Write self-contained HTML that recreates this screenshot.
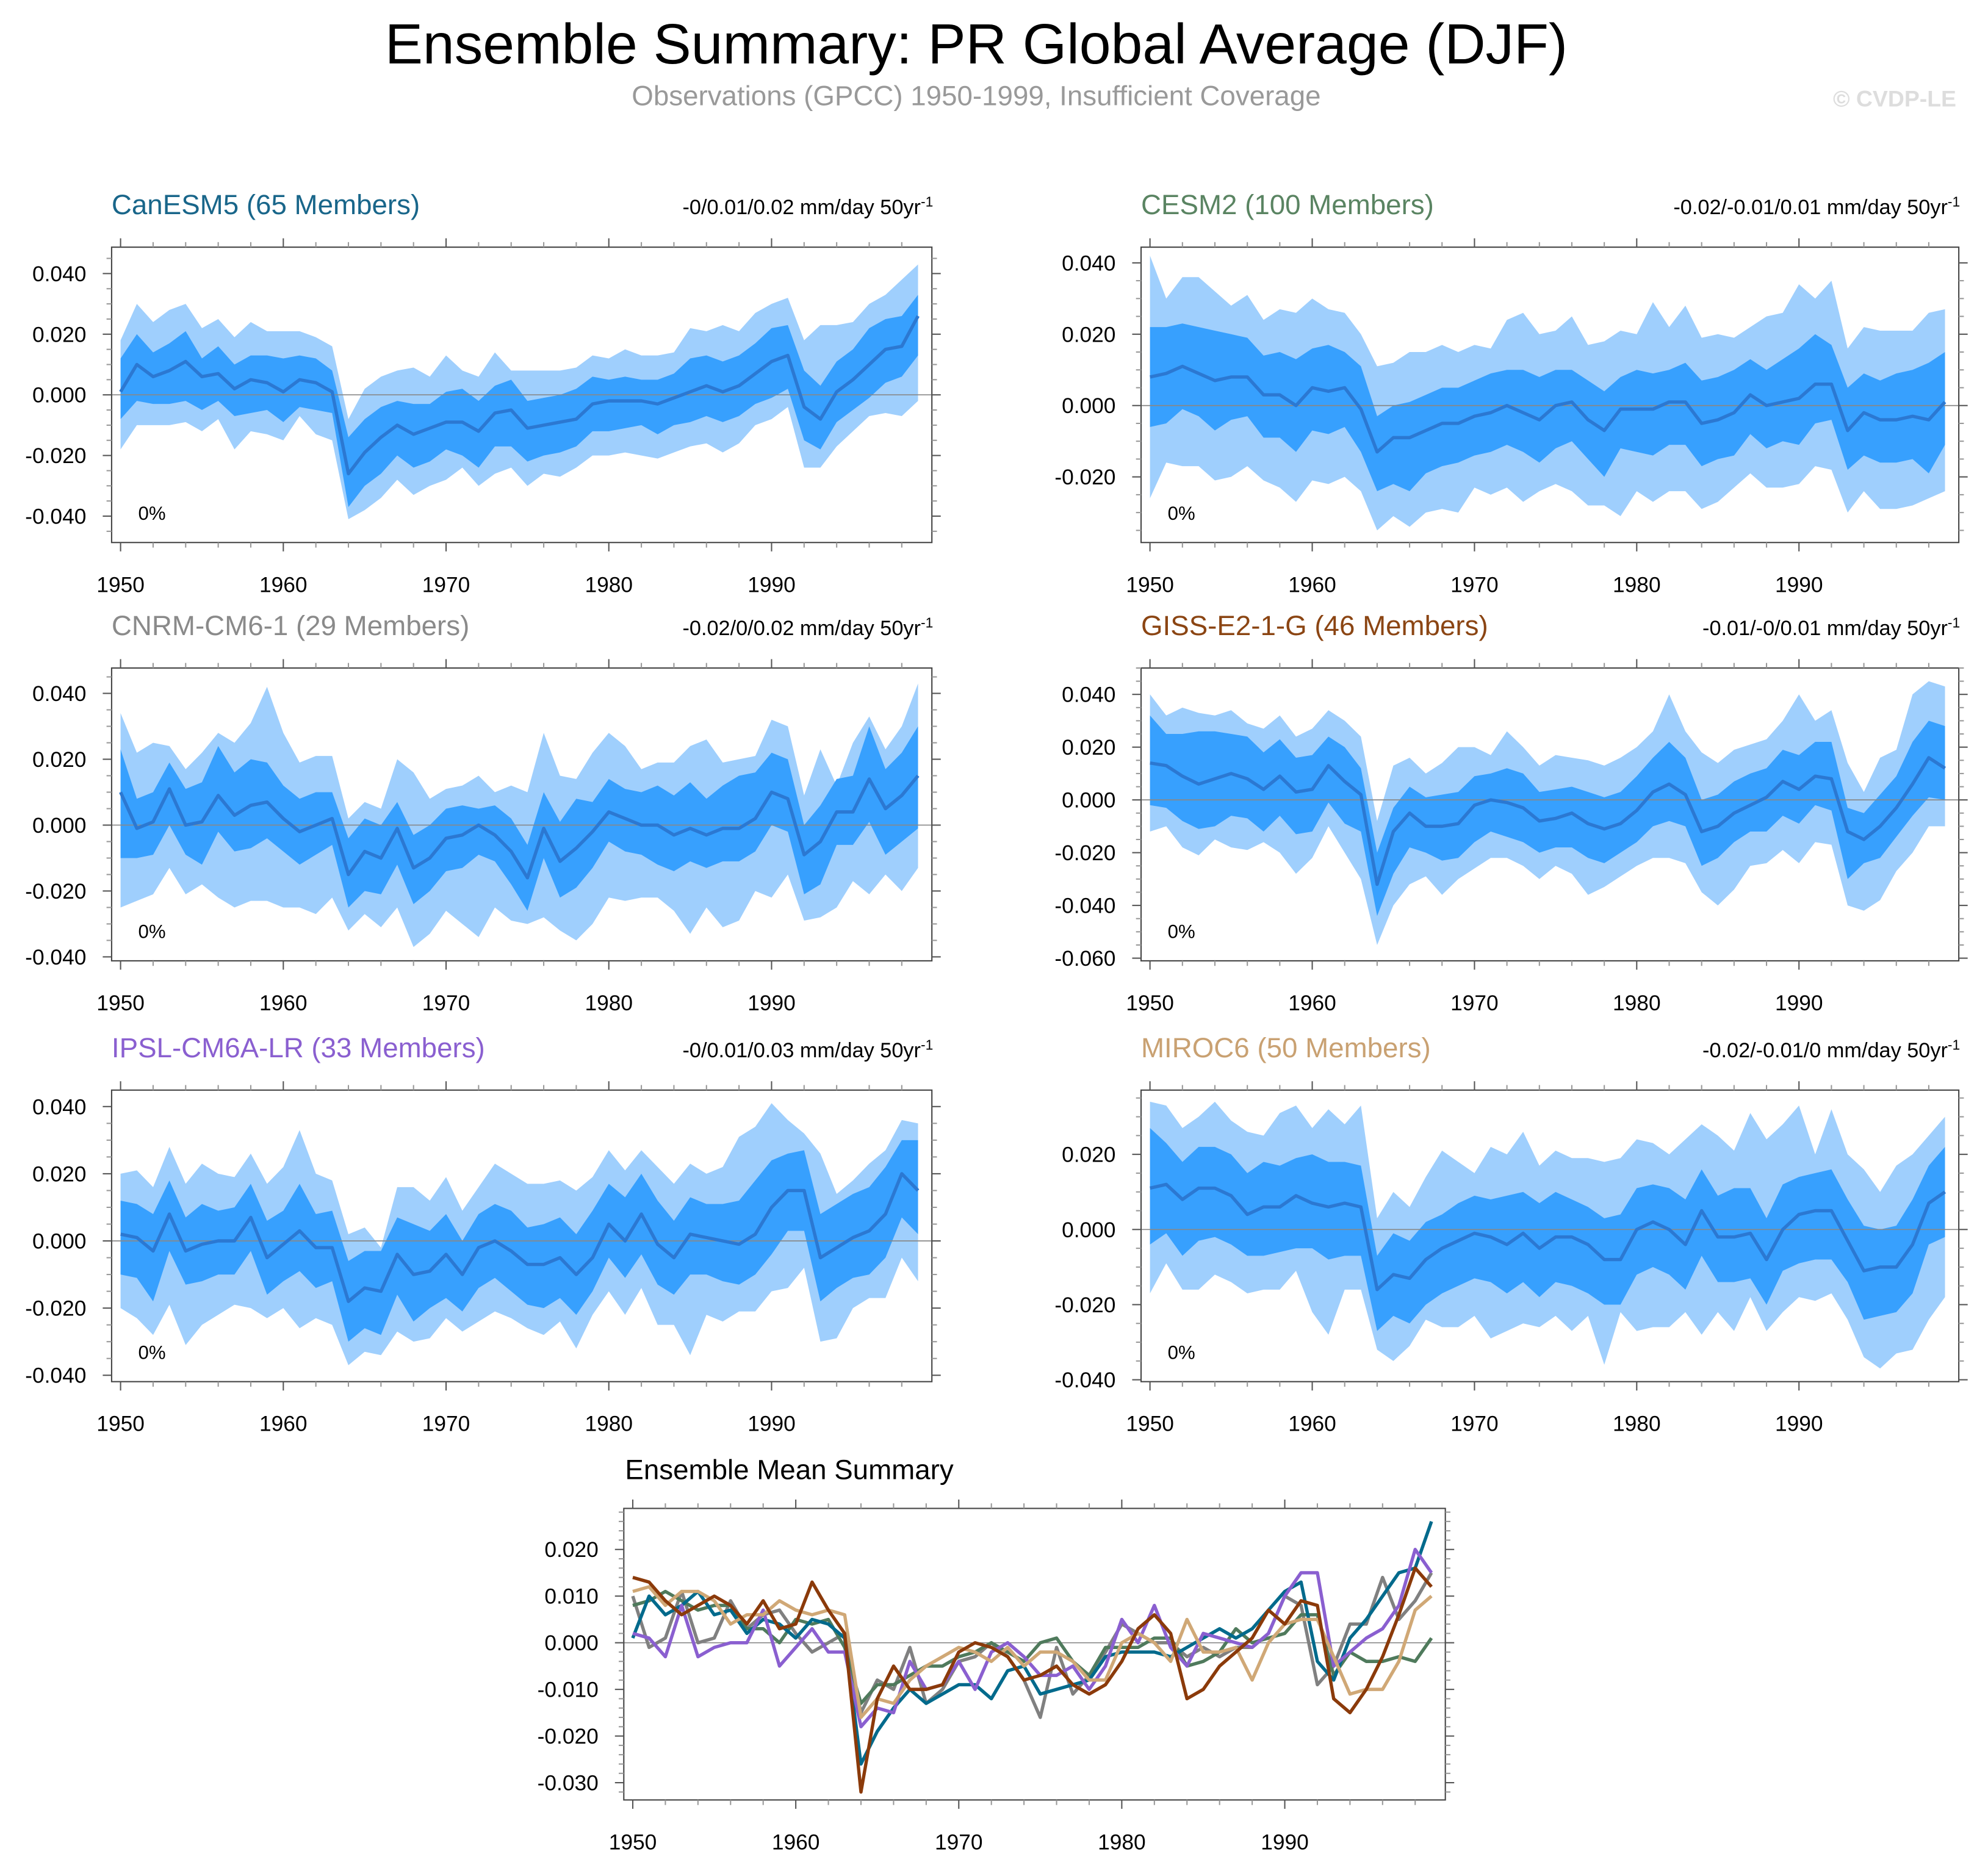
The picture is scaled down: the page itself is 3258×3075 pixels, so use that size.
<!DOCTYPE html>
<html><head><meta charset="utf-8"><style>
html,body{margin:0;padding:0;background:#fff}
svg{display:block}
text{font-family:"Liberation Sans",Arial,sans-serif}
</style></head><body>
<svg id="fig" xmlns="http://www.w3.org/2000/svg" width="3258" height="3075" viewBox="0 0 1568 1480">
<rect x="0" y="0" width="1568" height="1480" fill="#fff"/>
<text x="770" y="50" font-size="44.8" text-anchor="middle" fill="#000">Ensemble Summary: PR Global Average (DJF)</text>
<text x="770" y="83" font-size="22" text-anchor="middle" fill="#999">Observations (GPCC) 1950-1999, Insufficient Coverage</text>
<text x="1543" y="84" font-size="18" font-weight="bold" text-anchor="end" fill="#ddd">© CVDP-LE</text>
</svg>
<script>
const years = Array.from({length:50},(_,i)=>1950+i);
const modelNames = ["CanESM5 (65 Members)","CESM2 (100 Members)","CNRM-CM6-1 (29 Members)","GISS-E2-1-G (46 Members)","IPSL-CM6A-LR (33 Members)","MIROC6 (50 Members)"];
const trendLabels = ["-0/0.01/0.02 mm/day 50yr","-0.02/-0.01/0.01 mm/day 50yr","-0.02/0/0.02 mm/day 50yr","-0.01/-0/0.01 mm/day 50yr","-0/0.01/0.03 mm/day 50yr","-0.02/-0.01/0 mm/day 50yr"];
const modelColors = ["#19668a","#5a8462","#8a8a8a","#8b4513","#8a5fd0","#c9a172"];
const lineColors = ["#006a8c","#4f7a5c","#808080","#8b3a0a","#8a5fd0","#d0a876"];
// values in units of 0.001 mm/day
const meanCan=[1,10,6,8,11,6,7,2,5,4,1,5,4,1,-26,-19,-14,-10,-13,-11,-9,-9,-12,-6,-5,-11,-10,-9,-8,-3,-2,-2,-2,-3,-1,1,3,1,3,7,11,13,-4,-8,1,5,10,15,16,26];
const hi1Can=[12,20,14,17,21,12,16,10,13,13,12,13,12,8,-14,-8,-4,-2,-3,-3,1,2,-2,3,5,-2,-1,0,2,6,5,6,5,5,7,12,13,11,13,17,22,23,8,3,11,15,22,25,26,33];
const lo1Can=[-8,-2,-3,-3,-2,-5,-2,-7,-6,-5,-9,-4,-5,-6,-37,-30,-26,-20,-24,-22,-18,-20,-24,-17,-17,-22,-20,-19,-17,-12,-12,-11,-10,-13,-10,-9,-7,-9,-7,-3,-1,2,-15,-18,-9,-5,-1,4,6,13];
const hi2Can=[18,30,24,28,30,22,25,19,24,21,21,21,19,16,-8,2,6,8,9,6,13,8,6,14,8,8,8,8,9,13,12,15,13,13,14,22,21,23,21,27,30,32,18,23,23,24,30,33,38,43];
const lo2Can=[-18,-10,-10,-10,-9,-12,-8,-18,-12,-13,-15,-7,-13,-15,-41,-38,-34,-28,-33,-30,-28,-24,-30,-26,-24,-30,-26,-27,-24,-20,-20,-19,-20,-21,-19,-17,-16,-19,-16,-10,-8,-4,-24,-24,-17,-12,-7,-6,-7,-2];
const meanCesm=[8,9,11,9,7,8,8,3,3,0,5,4,5,-1,-13,-9,-9,-7,-5,-5,-3,-2,0,-2,-4,0,1,-4,-7,-1,-1,-1,1,1,-5,-4,-2,3,0,1,2,6,6,-7,-2,-4,-4,-3,-4,1];
const hi1Cesm=[22,22,23,22,21,20,19,14,15,13,16,17,15,11,-3,0,1,3,5,5,7,9,10,10,8,10,10,7,4,8,10,9,10,12,7,8,10,13,10,13,16,20,17,5,9,7,9,10,12,15];
const lo1Cesm=[-6,-5,-1,-3,-7,-4,-3,-9,-9,-13,-7,-8,-6,-13,-24,-22,-24,-19,-17,-16,-14,-13,-11,-13,-16,-12,-10,-15,-20,-12,-13,-14,-11,-11,-17,-15,-14,-8,-12,-10,-11,-5,-4,-18,-14,-16,-16,-15,-19,-11];
const hi2Cesm=[42,30,36,36,32,28,31,24,27,26,30,27,26,20,11,12,15,15,17,15,17,16,24,26,20,21,25,17,18,21,20,29,22,28,19,20,19,22,25,26,34,30,35,16,22,21,21,21,26,27];
const lo2Cesm=[-26,-16,-17,-17,-21,-20,-17,-21,-23,-27,-21,-22,-20,-24,-35,-31,-34,-30,-29,-30,-23,-25,-23,-27,-24,-22,-24,-28,-28,-31,-24,-27,-24,-24,-29,-27,-23,-19,-23,-23,-22,-17,-18,-30,-24,-29,-29,-28,-26,-24];
const meanCnrm=[10,-1,1,11,0,1,9,3,6,7,2,-2,0,2,-15,-8,-10,-1,-13,-10,-4,-3,0,-3,-8,-16,-1,-11,-7,-2,4,2,0,0,-3,-1,-3,-1,-1,2,10,8,-9,-5,4,4,14,5,9,15];
const hi1Cnrm=[23,8,10,19,11,13,24,16,20,19,12,8,10,10,-4,2,0,7,-3,0,5,6,5,6,2,-6,10,1,8,7,14,11,10,12,9,13,8,12,15,16,22,20,0,6,14,15,30,17,22,30];
const lo1Cnrm=[-10,-10,-9,0,-9,-12,-2,-8,-7,-4,-8,-12,-9,-6,-25,-20,-21,-12,-24,-20,-14,-13,-9,-11,-18,-26,-10,-22,-19,-13,-5,-8,-9,-12,-14,-11,-13,-11,-11,-8,0,-2,-21,-18,-6,-6,1,-9,-5,-1];
const hi2Cnrm=[34,22,25,24,17,22,28,25,31,42,28,19,21,21,2,7,5,20,16,8,11,12,15,10,12,10,28,15,14,22,28,24,17,19,19,24,26,19,20,21,32,30,9,23,12,25,33,23,30,43];
const lo2Cnrm=[-25,-23,-21,-13,-21,-18,-22,-25,-23,-23,-25,-25,-27,-22,-32,-27,-31,-25,-37,-33,-26,-30,-34,-25,-29,-30,-28,-32,-35,-30,-22,-23,-22,-22,-26,-33,-25,-31,-29,-20,-22,-15,-29,-28,-25,-17,-21,-15,-20,-13];
const meanGiss=[14,13,9,6,8,10,8,4,9,3,4,13,7,2,-32,-12,-5,-10,-10,-9,-2,0,-1,-3,-8,-7,-5,-9,-11,-9,-4,3,6,2,-12,-10,-5,-2,1,7,4,9,8,-12,-15,-10,-3,6,16,12];
const hi1Giss=[32,25,25,26,26,25,24,18,23,16,17,24,20,12,-20,-3,5,1,2,3,9,10,12,10,3,4,5,3,1,3,9,16,22,16,0,2,7,10,12,19,17,22,22,-3,-5,2,9,22,30,28];
const lo1Giss=[-2,-3,-8,-11,-10,-6,-7,-12,-6,-13,-12,-1,-9,-12,-44,-28,-18,-20,-23,-22,-16,-12,-14,-16,-20,-18,-18,-22,-24,-20,-16,-10,-8,-10,-25,-22,-16,-12,-12,-6,-9,-2,-4,-30,-24,-22,-14,-6,1,0];
const hi2Giss=[40,32,35,33,32,34,29,27,32,24,27,34,30,24,-8,13,16,10,14,20,20,17,26,20,13,17,16,15,13,16,20,26,40,26,18,14,19,21,23,30,40,30,34,14,3,16,19,40,45,43];
const lo2Giss=[-12,-10,-18,-21,-15,-18,-19,-16,-20,-28,-22,-10,-20,-30,-55,-40,-32,-29,-36,-30,-26,-22,-22,-25,-30,-25,-28,-36,-33,-29,-25,-22,-22,-24,-35,-40,-34,-25,-24,-19,-24,-16,-17,-40,-42,-38,-27,-20,-10,-10];
const meanIpsl=[2,1,-3,8,-3,-1,0,0,7,-5,-1,3,-2,-2,-18,-14,-15,-4,-10,-9,-4,-10,-2,0,-3,-7,-7,-5,-10,-5,5,0,8,-1,-5,2,1,0,-1,2,10,15,15,-5,-2,1,3,8,20,15];
const hi1Ipsl=[12,11,8,18,7,11,9,10,17,6,9,17,8,9,-6,-3,-3,7,5,3,8,0,8,11,9,4,5,7,2,9,17,13,20,12,6,13,11,11,12,18,24,26,27,8,11,14,16,22,30,30];
const lo1Ipsl=[-10,-11,-18,-3,-13,-12,-10,-10,-3,-16,-12,-9,-14,-12,-30,-26,-28,-16,-24,-20,-17,-21,-14,-11,-15,-19,-20,-17,-22,-15,-5,-11,-4,-13,-16,-10,-10,-12,-13,-10,-4,3,3,-18,-14,-11,-10,-5,7,2];
const hi2Ipsl=[20,21,16,28,17,23,20,19,26,17,22,33,20,18,2,4,-2,16,16,12,19,9,16,23,20,17,17,18,15,19,27,21,27,22,17,23,20,22,31,34,41,36,32,26,14,18,23,27,36,35];
const lo2Ipsl=[-20,-23,-28,-19,-31,-25,-22,-19,-20,-23,-20,-26,-23,-25,-37,-33,-34,-27,-30,-29,-23,-27,-24,-21,-23,-26,-28,-24,-32,-22,-15,-22,-14,-25,-25,-34,-22,-24,-21,-21,-15,-14,-8,-30,-29,-20,-17,-17,-5,-12];
const meanMiroc=[11,12,8,11,11,9,4,6,6,9,7,6,7,6,-16,-12,-13,-8,-5,-3,-1,-2,-4,-1,-5,-2,-2,-4,-8,-8,0,2,0,-4,5,-2,-2,-1,-8,0,4,5,5,-3,-11,-10,-10,-4,7,10];
const hi1Miroc=[27,23,18,22,22,20,15,18,17,19,20,18,18,17,-7,-1,-3,2,4,7,9,8,9,10,7,10,8,6,3,4,11,12,11,8,16,9,11,11,3,12,14,15,16,8,1,0,1,8,17,22];
const lo1Miroc=[-4,-1,-7,-3,-2,-4,-7,-7,-6,-5,-5,-8,-7,-7,-27,-23,-25,-20,-17,-15,-13,-14,-17,-14,-18,-14,-15,-17,-20,-20,-12,-10,-12,-16,-7,-14,-14,-13,-20,-11,-9,-8,-8,-14,-24,-23,-22,-17,-4,-2];
const hi2Miroc=[34,33,27,30,34,29,26,25,31,33,27,32,28,33,3,10,6,14,21,18,15,22,20,26,17,21,19,19,18,19,24,23,20,24,28,25,21,31,24,28,33,20,32,20,16,10,17,20,25,30];
const lo2Miroc=[-17,-9,-16,-16,-12,-14,-17,-16,-16,-11,-22,-28,-16,-16,-32,-35,-31,-24,-26,-26,-23,-29,-27,-25,-26,-23,-27,-23,-36,-22,-27,-26,-26,-22,-28,-22,-27,-18,-27,-22,-18,-19,-17,-24,-34,-37,-33,-32,-24,-18];
const yTicksA=[0.04,0.02,0,-0.02,-0.04];
const yTicksB=[0.04,0.02,0,-0.02];
const yTicksC=[0.04,0.02,0,-0.02,-0.04,-0.06];
const yTicksD=[0.02,0,-0.02,-0.04];
const yTicksE=[0.02,0.01,0,-0.01,-0.02,-0.03];
const xTicks=[1950,1960,1970,1980,1990];

const NS="http://www.w3.org/2000/svg";
const svg=document.getElementById('fig');
function el(tag,attrs,parent){const e=document.createElementNS(NS,tag);for(const k in attrs)e.setAttribute(k,attrs[k]);(parent||svg).appendChild(e);return e;}
const XD=[1949.45,1999.85];

const panels=[
 {box:[88,735,195,428],yd:[-0.0487,0.0487],ticks:yTicksA,d:[meanCan,hi1Can,lo1Can,hi2Can,lo2Can]},
 {box:[900,1545,195,428],yd:[-0.0384,0.0444],ticks:yTicksB,d:[meanCesm,hi1Cesm,lo1Cesm,hi2Cesm,lo2Cesm]},
 {box:[88,735,527,758],yd:[-0.0412,0.0477],ticks:yTicksA,d:[meanCnrm,hi1Cnrm,lo1Cnrm,hi2Cnrm,lo2Cnrm]},
 {box:[900,1545,527,758],yd:[-0.061,0.05],ticks:yTicksC,d:[meanGiss,hi1Giss,lo1Giss,hi2Giss,lo2Giss]},
 {box:[88,735,860,1090],yd:[-0.0419,0.0449],ticks:yTicksA,d:[meanIpsl,hi1Ipsl,lo1Ipsl,hi2Ipsl,lo2Ipsl]},
 {box:[900,1545,860,1090],yd:[-0.0405,0.0371],ticks:yTicksD,d:[meanMiroc,hi1Miroc,lo1Miroc,hi2Miroc,lo2Miroc]}
];

function axes(g,box,yd,ticks,minorStep){
  const [x0,x1,y0,y1]=box;
  const sx=v=>x0+(v-XD[0])/(XD[1]-XD[0])*(x1-x0);
  const sy=v=>y1-(v-yd[0])/(yd[1]-yd[0])*(y1-y0);
  return {sx,sy,draw:()=>{
    el('rect',{x:x0,y:y0,width:x1-x0,height:y1-y0,fill:'none',stroke:'#444','stroke-width':1},g);
    for(let yr=1950;yr<=1998;yr+=2){const x=sx(yr);const maj=yr%10===0;const L=maj?7:4;
      el('line',{x1:x,x2:x,y1:y1,y2:y1+L,stroke:maj?'#555':'#999','stroke-width':1},g);
      el('line',{x1:x,x2:x,y1:y0,y2:y0-L,stroke:maj?'#555':'#999','stroke-width':1},g);}
    const lo=Math.ceil(yd[0]/minorStep-1e-6),hi=Math.floor(yd[1]/minorStep+1e-6);
    for(let k=lo;k<=hi;k++){const v=k*minorStep;const y=sy(v);const maj=ticks.some(t=>Math.abs(t-v)<1e-9);const L=maj?7:4;
      el('line',{x1:x0,x2:x0-L,y1:y,y2:y,stroke:maj?'#555':'#999','stroke-width':1},g);
      el('line',{x1:x1,x2:x1+L,y1:y,y2:y,stroke:maj?'#555':'#999','stroke-width':1},g);}
    ticks.forEach(t=>{const tx=el('text',{x:x0-20,y:sy(t)+6,'font-size':17,'text-anchor':'end',fill:'#000'},g);
      
      
      tx.textContent=t.toFixed(3);});
    xTicks.forEach(t=>{const tx=el('text',{x:sx(t),y:y1+39,'font-size':17,'text-anchor':'middle',fill:'#000'},g);
      
      
      tx.textContent=t;});
  }};
}

function areaPath(hi,lo,sx,sy){let p='';hi.forEach((v,i)=>{p+=(i?'L':'M')+sx(years[i]).toFixed(2)+','+sy(v/1000).toFixed(2);});
  for(let i=lo.length-1;i>=0;i--)p+='L'+sx(years[i]).toFixed(2)+','+sy(lo[i]/1000).toFixed(2);return p+'Z';}
function linePath(arr,sx,sy){return arr.map((v,i)=>(i?'L':'M')+sx(years[i]).toFixed(2)+','+sy(v/1000).toFixed(2)).join('');}

panels.forEach((P,i)=>{
  const g=el('g',{});
  
  
  const A=axes(g,P.box,P.yd,P.ticks,0.005);
  const [mean,h1,l1,h2,l2]=P.d;
  const a2=el('path',{d:areaPath(h2,l2,A.sx,A.sy),fill:'#9fcffd'},g);
  
  
  const a1=el('path',{d:areaPath(h1,l1,A.sx,A.sy),fill:'#37a0fe'},g);
  
  
  const z=el('line',{x1:P.box[0],x2:P.box[1],y1:A.sy(0),y2:A.sy(0),stroke:'#888','stroke-width':0.8},g);
  
  
  const m=el('path',{d:linePath(mean,A.sx,A.sy),fill:'none',stroke:'#2b78d2','stroke-width':2.6,'stroke-linejoin':'round'},g);
  
  
  A.draw();
  const t=el('text',{x:P.box[0],y:P.box[2]-26,'font-size':22,fill:modelColors[i]},g);
  
  
  t.textContent=modelNames[i];
  const tr=el('text',{x:P.box[1]+1,y:P.box[2]-26,'font-size':16.5,'text-anchor':'end',fill:'#000'},g);
  
  
  tr.textContent=trendLabels[i];
  const sup=el('tspan',{dy:-6,'font-size':11},tr);sup.textContent='-1';
  const pc=el('text',{x:P.box[0]+21,y:P.box[3]-18,'font-size':15,fill:'#000'},g);
  
  
  pc.textContent='0%';
});

// ensemble mean summary
const gs=el('g',{});


const box=[492,1140,1190,1420];
const S=axes(gs,box,[-0.0337,0.0288],yTicksE,0.002);
const zl=el('line',{x1:box[0],x2:box[1],y1:S.sy(0),y2:S.sy(0),stroke:'#888','stroke-width':0.8},gs);


const means=[meanCan,meanCesm,meanCnrm,meanGiss,meanIpsl,meanMiroc];
[2,1,0,4,5,3].forEach(k=>{
  const p=el('path',{d:linePath(means[k],S.sx,S.sy),fill:'none',stroke:lineColors[k],'stroke-width':2.6,'stroke-linejoin':'round'},gs);
  
  
});
S.draw();
const st=el('text',{x:493,y:1167,'font-size':22,fill:'#000'},gs);


st.textContent='Ensemble Mean Summary';
</script>
</body></html>
